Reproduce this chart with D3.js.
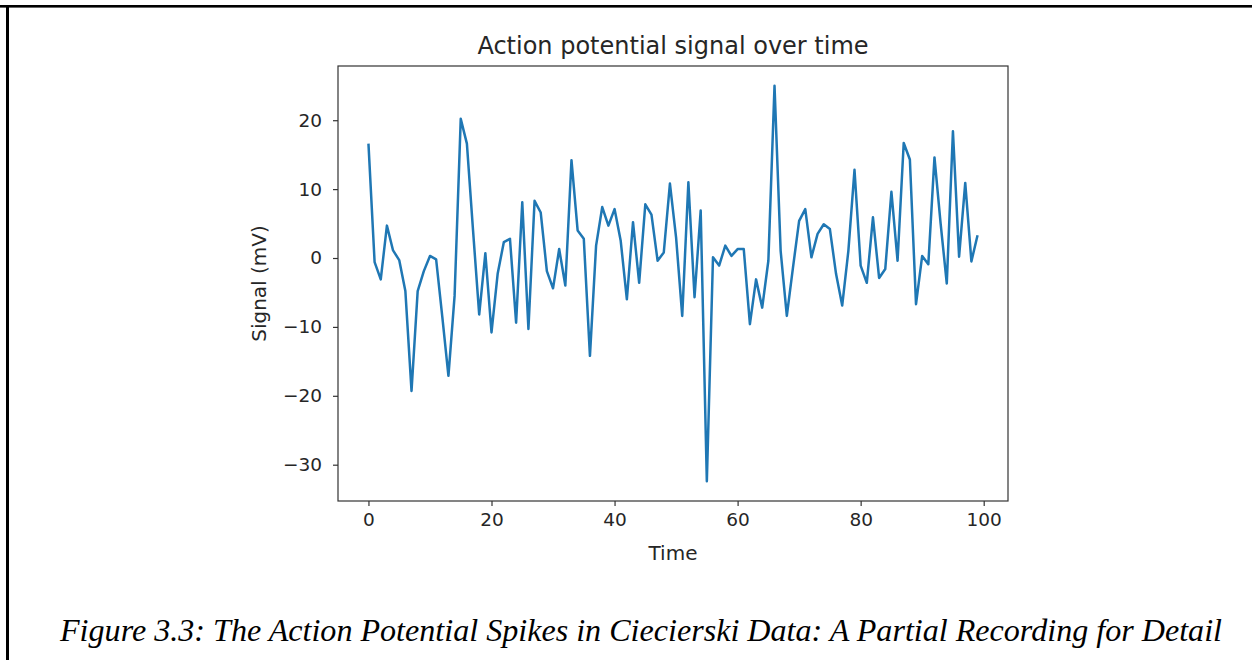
<!DOCTYPE html>
<html>
<head>
<meta charset="utf-8">
<script src="https://cdn.jsdelivr.net/npm/d3@7"></script>
<style>
  body { margin: 0; background: #fff; }
  svg { display: block; }
  .tick text { font-family: "DejaVu Sans", sans-serif; font-size: 18.5px; fill: #262626; }
  .tick line { stroke: #333; stroke-width: 1.2; }
  .domain { display: none; }
</style>
</head>
<body>
<script>
// signal samples, one per time step
var time = d3.range(0, 100);
var signal = [
  16.6, -0.6, -3.1, 4.7, 1.1, -0.3, -4.8, -19.3, -4.8, -1.9,
  0.3, -0.2, -8.5, -17.1, -5.5, 20.2, 16.6, 4.0, -8.2, 0.7,
  -10.8, -2.3, 2.3, 2.8, -9.4, 8.1, -10.3, 8.3, 6.6, -1.9,
  -4.4, 1.3, -4.0, 14.2, 4.0, 2.8, -14.2, 1.8, 7.4, 4.7,
  7.1, 2.5, -6.0, 5.2, -3.6, 7.8, 6.3, -0.4, 0.8, 10.8,
  3.0, -8.4, 11.0, -5.7, 6.9, -32.4, 0.1, -1.1, 1.8, 0.3,
  1.3, 1.3, -9.6, -3.1, -7.2, -0.4, 25.0, 1.0, -8.4, -1.4,
  5.4, 7.1, 0.1, 3.5, 4.9, 4.2, -2.3, -6.9, 1.0, 12.8,
  -1.1, -3.6, 5.9, -2.9, -1.6, 9.6, -0.4, 16.7, 14.3, -6.7,
  0.3, -0.9, 14.6, 5.0, -3.7, 18.4, 0.2, 10.9, -0.5, 3.3
];
var xTicks = [0, 20, 40, 60, 80, 100];
var yTicks = [-30, -20, -10, 0, 10, 20];

var W = 1252, H = 660;
var plot = {left: 338, top: 66, right: 1008, bottom: 501};

var svg = d3.select("body").append("svg")
    .attr("width", W)
    .attr("height", H);

// page frame (top and left rules only)
svg.append("rect").attr("x", 0).attr("y", 5).attr("width", W).attr("height", 2.6).attr("fill", "#000");
svg.append("rect").attr("x", 6).attr("y", 5).attr("width", 3).attr("height", H - 5).attr("fill", "#000");

// matplotlib style 5% margins
var xExt = d3.extent(time), yExt = d3.extent(signal);
var xPad = (xExt[1] - xExt[0]) * 0.05, yPad = (yExt[1] - yExt[0]) * 0.05;

var x = d3.scaleLinear()
    .domain([xExt[0] - xPad, xExt[1] + xPad])
    .range([plot.left, plot.right]);
var y = d3.scaleLinear()
    .domain([yExt[0] - yPad, yExt[1] + yPad])
    .range([plot.bottom, plot.top]);

svg.append("g")
    .attr("transform", "translate(0," + plot.bottom + ")")
    .call(d3.axisBottom(x).tickValues(xTicks).tickSize(5).tickPadding(7).tickFormat(d3.format("d")));

svg.append("g")
    .attr("transform", "translate(" + plot.left + ",0)")
    .call(d3.axisLeft(y).tickValues(yTicks).tickSize(5).tickPadding(11)
      .tickFormat(function(d) { return d < 0 ? "\u2212" + Math.abs(d) : d; }));

// the signal trace
var line = d3.line()
    .x(function(d, i) { return x(time[i]); })
    .y(function(d) { return y(d); });

svg.append("path")
    .datum(signal)
    .attr("fill", "none")
    .attr("stroke", "#1f77b4")
    .attr("stroke-width", 2.5)
    .attr("stroke-linejoin", "round")
    .attr("d", line);

// axes box
svg.append("rect")
    .attr("x", plot.left).attr("y", plot.top)
    .attr("width", plot.right - plot.left)
    .attr("height", plot.bottom - plot.top)
    .attr("fill", "none")
    .attr("stroke", "#333")
    .attr("stroke-width", 1.2);

svg.append("text")
    .attr("x", (plot.left + plot.right) / 2).attr("y", 54)
    .attr("text-anchor", "middle")
    .style("font-family", "DejaVu Sans, sans-serif").style("font-size", "24px").style("fill", "#262626")
    .text("Action potential signal over time");

svg.append("text")
    .attr("x", (plot.left + plot.right) / 2).attr("y", 560)
    .attr("text-anchor", "middle")
    .style("font-family", "DejaVu Sans, sans-serif").style("font-size", "20px").style("fill", "#262626")
    .text("Time");

svg.append("text")
    .attr("transform", "translate(266," + (plot.top + plot.bottom) / 2 + ") rotate(-90)")
    .attr("text-anchor", "middle")
    .style("font-family", "DejaVu Sans, sans-serif").style("font-size", "20px").style("fill", "#262626")
    .text("Signal (mV)");

svg.append("text")
    .attr("x", 60).attr("y", 641)
    .attr("textLength", 1162)
    .attr("lengthAdjust", "spacingAndGlyphs")
    .style("font-family", "Liberation Serif, Times New Roman, serif")
    .style("font-style", "italic").style("font-size", "31px").style("fill", "#000")
    .text("Figure 3.3: The Action Potential Spikes in Ciecierski Data: A Partial Recording for Detail");
</script>
</body>
</html>
